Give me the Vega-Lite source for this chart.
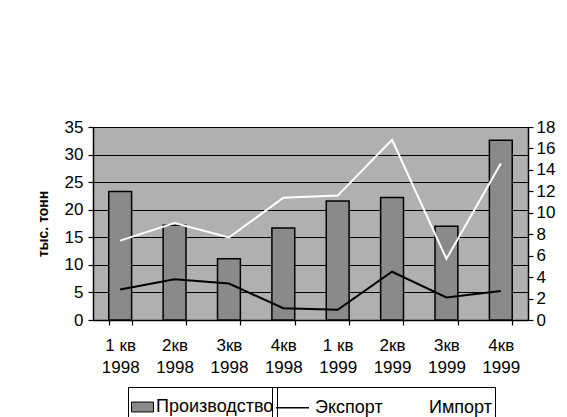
{
  "$schema": "https://vega.github.io/schema/vega-lite/v6.json",
  "width": 435,
  "height": 193,
  "padding": {"left": 36, "top": 118, "right": 5, "bottom": 5},
  "background": "white",
  "config": {
    "font": "Liberation Sans",
    "view": {"fill": "#b0b0b0", "stroke": "#222222", "strokeWidth": 1},
    "axis": {"labelFont": "Liberation Sans", "labelFontSize": 17, "labelColor": "black", "domainColor": "black", "tickColor": "black", "domainWidth": 1.5, "tickWidth": 1.2},
    "legend": {"labelFont": "Liberation Sans", "labelFontSize": 18, "labelColor": "black", "strokeColor": "black", "padding": 3, "title": null}
  },
  "data": {
    "values": [
      {"q": "1 кв|1998", "prod": 23.3, "exp": 2.85, "imp": 7.4},
      {"q": "2кв|1998", "prod": 17.2, "exp": 3.8, "imp": 9.05},
      {"q": "3кв|1998", "prod": 11.1, "exp": 3.4, "imp": 7.7},
      {"q": "4кв|1998", "prod": 16.7, "exp": 1.1, "imp": 11.4},
      {"q": "1 кв|1999", "prod": 21.6, "exp": 0.95, "imp": 11.6},
      {"q": "2кв|1999", "prod": 22.2, "exp": 4.5, "imp": 16.8},
      {"q": "3кв|1999", "prod": 17.0, "exp": 2.1, "imp": 5.7},
      {"q": "4кв|1999", "prod": 32.6, "exp": 2.7, "imp": 14.6}
    ]
  },
  "encoding": {
    "x": {
      "field": "q", "type": "nominal", "sort": null,
      "scale": {"paddingInner": 0.58, "paddingOuter": 0.29},
      "axis": {"title": null, "labelAngle": 0, "labelExpr": "split(datum.label, '|')", "tickBand": "extent", "tickSize": 5, "labelPadding": 12, "labelLineHeight": 22, "labelBaseline": "top"}
    }
  },
  "layer": [
    {
      "mark": {"type": "bar", "stroke": "black", "strokeWidth": 1.5},
      "encoding": {
        "y": {
          "field": "prod", "type": "quantitative",
          "scale": {"domain": [0, 35], "nice": false},
          "axis": {"title": "тыс. тонн", "titleFontSize": 14, "titleFontWeight": "bold", "titleColor": "black", "titlePadding": 14, "values": [0, 5, 10, 15, 20, 25, 30, 35], "grid": true, "gridColor": "black", "gridWidth": 1.2, "tickSize": 5, "labelPadding": 5}
        },
        "fill": {
          "datum": "Производство", "type": "nominal",
          "scale": {"domain": ["Производство"], "range": ["#8a8a8a"]},
          "legend": {
            "title": null, "orient": "none", "legendX": 35, "legendY": 260, "direction": "horizontal",
            "symbolType": "M-1,-0.3H0.33V0.3H-1Z", "symbolSize": 1089, "symbolStrokeColor": "black", "symbolStrokeWidth": 1,
            "labelOffset": -9
          }
        }
      }
    },
    {
      "layer": [
        {
          "mark": {"type": "line", "strokeWidth": 2},
          "encoding": {
            "y": {"field": "exp", "type": "quantitative", "scale": {"domain": [0, 18], "nice": false}, "axis": {"orient": "right", "title": null, "values": [0, 2, 4, 6, 8, 10, 12, 14, 16, 18], "grid": false, "tickSize": 5, "labelPadding": 3}},
            "stroke": {
              "datum": "Экспорт", "type": "nominal",
              "scale": {"domain": ["Экспорт", "Импорт"], "range": ["black", "white"]},
              "legend": {
                "title": null, "orient": "none", "legendX": 179, "legendY": 260, "direction": "horizontal",
                "symbolType": "stroke", "symbolSize": 1089, "symbolStrokeWidth": 1.5,
                "labelOffset": 5, "columnPadding": 4
              }
            }
          }
        },
        {
          "mark": {"type": "line", "strokeWidth": 2},
          "encoding": {
            "y": {"field": "imp", "type": "quantitative", "scale": {"domain": [0, 18], "nice": false}, "axis": {"orient": "right", "title": null, "values": [0, 2, 4, 6, 8, 10, 12, 14, 16, 18], "grid": false, "tickSize": 5, "labelPadding": 3}},
            "stroke": {"datum": "Импорт", "type": "nominal"}
          }
        }
      ]
    }
  ],
  "resolve": {"scale": {"y": "independent"}}
}
